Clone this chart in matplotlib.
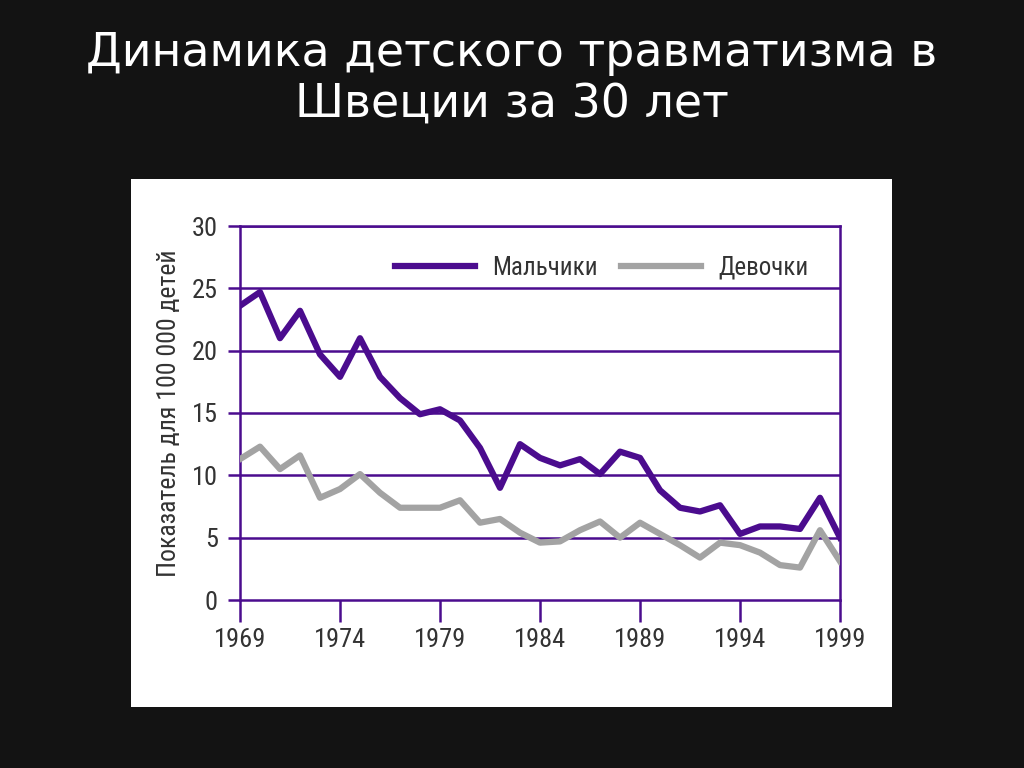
import matplotlib
matplotlib.use('Agg')
import matplotlib.pyplot as plt
from matplotlib.patches import Rectangle

plt.rcParams['font.family'] = ['Roboto Condensed', 'PT Sans Narrow', 'Fira Sans Condensed',
                               'IBM Plex Sans Condensed', 'Ubuntu Condensed', 'Noto Sans',
                               'DejaVu Sans']

years = list(range(1969, 2000))
boys = [23.6, 24.7, 21.0, 23.2, 19.7, 17.9, 21.0, 17.9, 16.2, 14.9,
        15.3, 14.4, 12.2, 9.0, 12.5, 11.4, 10.8, 11.3, 10.1, 11.9,
        11.4, 8.8, 7.4, 7.1, 7.6, 5.3, 5.9, 5.9, 5.7, 8.2, 5.0]
girls = [11.3, 12.3, 10.5, 11.6, 8.2, 8.9, 10.1, 8.6, 7.4, 7.4,
         7.4, 8.0, 6.2, 6.5, 5.4, 4.6, 4.7, 5.6, 6.3, 5.0,
         6.2, 5.3, 4.4, 3.4, 4.6, 4.4, 3.8, 2.8, 2.6, 5.6, 3.1]
x_ticks = [1969, 1974, 1979, 1984, 1989, 1994, 1999]
y_ticks = [0, 5, 10, 15, 20, 25, 30]

purple = '#4b0c8e'
grey = '#a3a3a3'
text_col = '#333333'

fig = plt.figure(figsize=(10.24, 7.68), dpi=100)
fig.patch.set_facecolor('#131313')

# белая подложка под график
fig.patches.append(Rectangle((131 / 1024, 61 / 768), 761 / 1024, 528 / 768,
                             transform=fig.transFigure, facecolor='white',
                             edgecolor='none', zorder=-10))

fig.text(0.5, 0.897, 'Динамика детского травматизма в\nШвеции за 30 лет',
         ha='center', va='center', color='white', fontsize=33,
         family=['DejaVu Sans'], linespacing=1.15)

ax = fig.add_axes([240 / 1024, 168 / 768, 600 / 1024, 374 / 768])
ax.set_facecolor('none')

for y in y_ticks[1:]:
    ax.axhline(y, color=purple, lw=1.8, zorder=1)

ax.plot(years, girls, color=grey, lw=4.5, label='Девочки', zorder=3)
ax.plot(years, boys, color=purple, lw=4.5, label='Мальчики', zorder=4)

ax.set_xlim(1969, 1999)
ax.set_ylim(0, 30)
ax.set_xticks(x_ticks)
ax.set_yticks(y_ticks)
ax.tick_params(axis='x', length=16, width=1.8, color=purple, labelsize=19,
               labelcolor=text_col, pad=4)
ax.tick_params(axis='y', length=9, width=1.8, color=purple, labelsize=19,
               labelcolor=text_col, pad=7)

for side in ['left', 'right', 'bottom', 'top']:
    ax.spines[side].set_color(purple)
    ax.spines[side].set_linewidth(1.8)

ax.set_ylabel('Показатель для 100 000 детей', fontsize=18.5, color=text_col,
              labelpad=8)

handles, labels = ax.get_legend_handles_labels()
leg = ax.legend(handles[::-1], labels[::-1], loc='upper right', ncol=2,
                frameon=False, fontsize=18, handlelength=3.2,
                columnspacing=0.9, handletextpad=0.7,
                bbox_to_anchor=(0.985, 0.98), labelcolor=text_col)

fig.savefig('out.png', dpi=100, facecolor=fig.get_facecolor())
